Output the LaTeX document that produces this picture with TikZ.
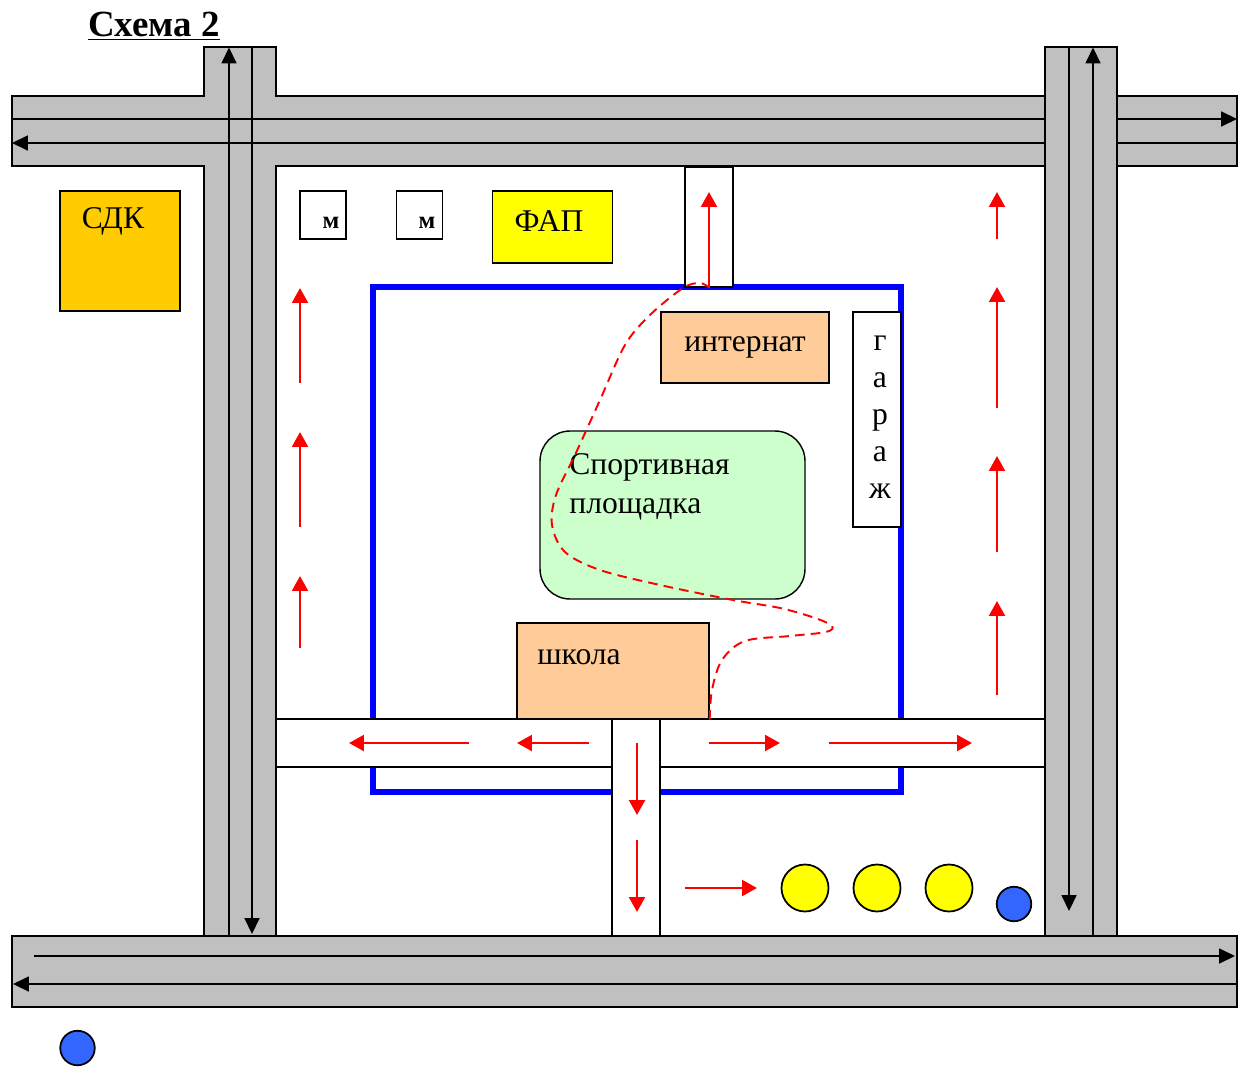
\documentclass[tikz,border=0pt]{standalone}
\usepackage{fontspec}
\setmainfont{Liberation Serif}
\usepackage{tikz}
\usetikzlibrary{arrows.meta,calc}

\definecolor{roadgray}{HTML}{C0C0C0}
\definecolor{sdkorange}{HTML}{FFCC00}
\definecolor{fapyellow}{HTML}{FFFF00}
\definecolor{housepeach}{HTML}{FFCC99}
\definecolor{sportgreen}{HTML}{CCFFCC}
\definecolor{carblue}{HTML}{3366FF}

\tikzset{
  road/.style={draw=black, fill=roadgray, line width=0.8pt},
  lane/.style={black, line width=0.8pt, -{Triangle[length=9pt,width=8.5pt]}},
  sideway/.style={draw=black, fill=white, line width=0.8pt},
  flow/.style={red, line width=1.5pt, -{Triangle[length=8.5pt,width=9pt]}},
  route/.style={red, line width=1.1pt, dash pattern=on 5.5pt off 3.5pt},
  box/.style={draw=black, line width=0.8pt, inner sep=0pt},
  txt/.style={inner sep=0pt},
  bus/.style={circle, draw=black, line width=1pt, fill=fapyellow, minimum size=0.94cm, inner sep=0pt},
  car/.style={circle, draw=black, line width=1pt, fill=carblue, minimum size=0.69cm, inner sep=0pt}
}

\begin{document}
\begin{tikzpicture}[x=0.02cm, y=-0.02cm, every node/.style={font=\fontsize{18}{22}\selectfont}]
        \useasboundingbox (0,0) rectangle (1240,1068);
        \node[txt, anchor=base west, font=\fontsize{21}{25}\selectfont\bfseries] (title) at (88,37) {\underline{Схема 2}};

        \draw[road] (12,96) rectangle (1237,166);
        \draw[road] (204,47) rectangle (276,936);
        \fill[roadgray] (202.5,97) rectangle (277.5,165);
        \draw[lane] (12,119) -- (1237,119);
        \draw[lane] (1237,143) -- (12,143);
        \draw[lane] (229,936) -- (229,47.5);
        \draw[lane] (252,47) -- (252,934);
        \draw[road] (1045,47) rectangle (1117,936);
        \draw[lane] (1069,47) -- (1069,911);
        \draw[lane] (1093,936) -- (1093,47.5);
        \draw[road] (12,936) rectangle (1237,1007);
        \draw[lane] (34,956) -- (1235,956);
        \draw[lane] (1237,984) -- (13,984);

        \draw[blue, line width=3pt] (373,287) rectangle (901,792);

        \node[box, fill=sdkorange, minimum width=2.4cm, minimum height=2.4cm] (sdk) at (120,251) {};
        \node[txt] (sdklabel) at (113,221) {СДК};
        \node[box, minimum width=0.92cm, minimum height=0.96cm] (shop1) at (323,215) {};
        \node[txt, font=\fontsize{14}{16}\selectfont\bfseries] (shop1label) at (331,223) {м};
        \node[box, minimum width=0.92cm, minimum height=0.96cm] (shop2) at (419.5,215) {};
        \node[txt, font=\fontsize{14}{16}\selectfont\bfseries] (shop2label) at (427,223) {м};
        \node[box, fill=fapyellow, minimum width=2.4cm, minimum height=1.44cm] (fap) at (552.5,227) {};
        \node[txt] (faplabel) at (549,221) {ФАП};
        \node[box, fill=housepeach, minimum width=3.36cm, minimum height=1.42cm] (internat) at (745,347.5) {интернат};
        \node[box, fill=white, minimum width=0.96cm, minimum height=4.3cm] (garage) at (877,419.5) {};
        \node[txt, align=center, font=\fontsize{18}{21}\selectfont] (garagelabel) at (880,417) {г\\а\\р\\а\\ж};
        \node[box, fill=sportgreen, rounded corners=0.6cm, minimum width=5.3cm, minimum height=3.36cm] (sport) at (672.5,515) {};
        \node[txt, anchor=west, align=left] (sportlabel) at (569,487) {Спортивная\\площадка};
        \node[box, fill=housepeach, minimum width=3.84cm, minimum height=1.92cm] (school) at (613,671) {};
        \node[txt, anchor=west] (schoollabel) at (537,657) {школа};

        \draw[sideway] (276,719) rectangle (1045,767);
        \draw[sideway] (612,719) rectangle (660,936);
        \node[box, fill=white, minimum width=0.96cm, minimum height=2.4cm] (gate) at (709,227) {};

        \foreach \ya/\yb in {383/288, 527/432, 648/576}
            \draw[flow] (300,\ya) -- (300,\yb);
        \foreach \ya/\yb in {239/192, 408/287, 552/456, 695/601}
            \draw[flow] (997,\ya) -- (997,\yb);
        \foreach \xa/\xb in {469/349, 589/517, 709/780, 829/972}
            \draw[flow] (\xa,743) -- (\xb,743);
        \foreach \ya/\yb in {743/815, 840/912}
            \draw[flow] (637,\ya) -- (637,\yb);
        \draw[flow] (685,888) -- (757,888);
        \draw[flow] (gate.south) -- (709,192);

        \draw[route] plot[smooth, tension=0.55] coordinates {(school.south east) (712,690) (722,660) (745,641) (790,636) (826,632) (832,626) (815,618) (780,608) (733,600) (660,585) (600,570) (565,552) (552,525) (556,495) (575,455) (600,400) (625,345) (650,315) (683,288) (700,283) (gate.south)};

        \foreach \cx [count=\i] in {805,877,949}
            \node[bus] (bus\i) at (\cx,888) {};
        \node[car] (car1) at (1014,904) {};
        \node[car] (car2) at (77.5,1048) {};
    \end{tikzpicture}
\end{document}
